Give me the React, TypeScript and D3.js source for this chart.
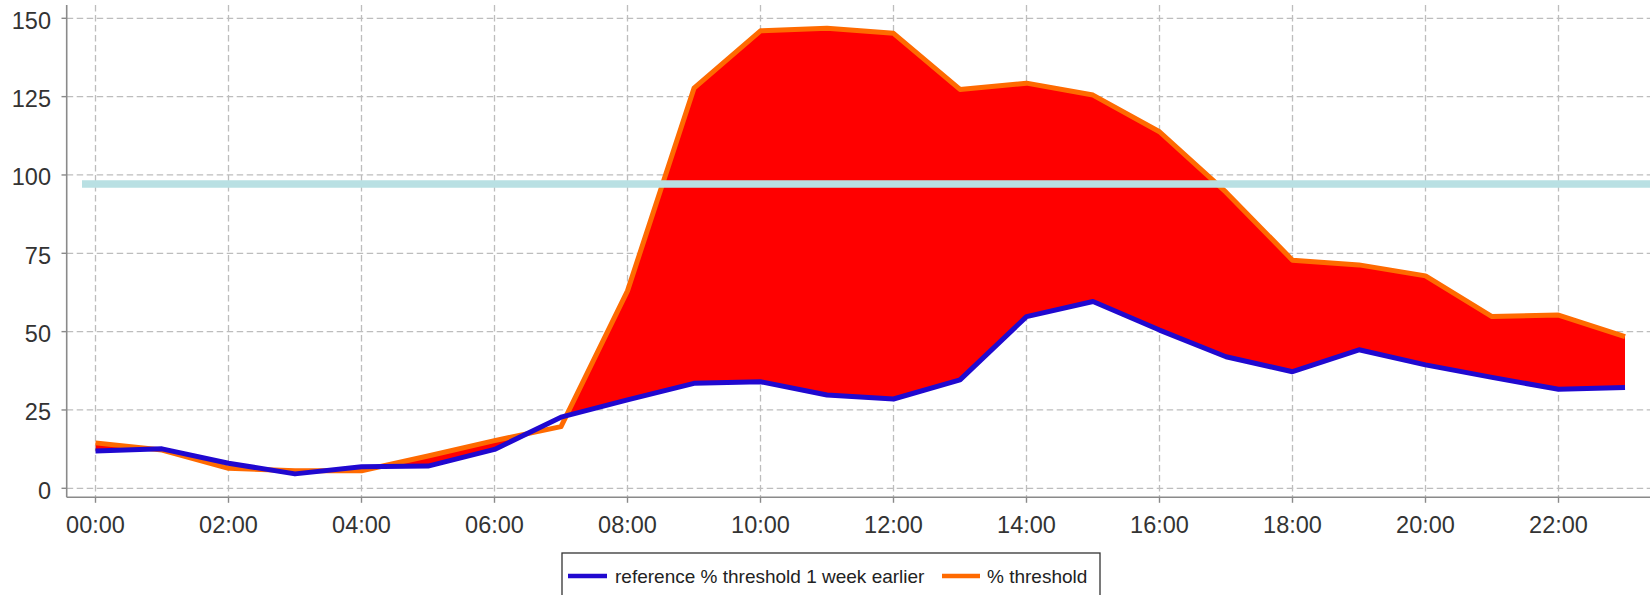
import React from "react";
import * as d3 from "d3";

const hours = [
  "00:00", "01:00", "02:00", "03:00", "04:00", "05:00", "06:00", "07:00",
  "08:00", "09:00", "10:00", "11:00", "12:00", "13:00", "14:00", "15:00",
  "16:00", "17:00", "18:00", "19:00", "20:00", "21:00", "22:00", "23:00",
];

const thresholdPct = [
  14.5, 12.2, 6.4, 5.6, 5.6, 10.3, 15.2, 19.7, 63.0, 127.7, 146.0, 146.8,
  145.2, 127.3, 129.3, 125.5, 113.8, 94.5, 72.8, 71.3, 67.8, 54.8, 55.3, 48.4,
];

const referencePct = [
  11.9, 12.6, 8.0, 4.6, 6.9, 7.1, 12.4, 22.7, 28.2, 33.5, 34.0, 29.8,
  28.5, 34.6, 54.8, 59.6, 50.5, 42.0, 37.2, 44.2, 39.4, 35.4, 31.6, 32.2,
];

const yTicks = [0, 25, 50, 75, 100, 125, 150];
const xTickHours = [0, 2, 4, 6, 8, 10, 12, 14, 16, 18, 20, 22];
const targetLine = 97.1;

const legendItems = [
  { label: "reference % threshold 1 week earlier", color: "#2008d0" },
  { label: "% threshold", color: "#ff6a00" },
];

const W = 1650;
const H = 595;
const plotLeft = 66.7;
const plotRight = 1650;
const plotTop = 5;
const plotBottom = 497.3;

const FONT = "'Liberation Sans', Arial, sans-serif";

export default function App() {
  const x = d3.scaleLinear().domain([0, 22]).range([95.5, 1558.5]);
  const y = d3.scaleLinear().domain([0, 150]).range([488.3, 18.3]);

  const idx = hours.map((_, i) => i);

  const lineThr = d3
    .line<number>()
    .x((i) => x(i))
    .y((i) => y(thresholdPct[i]));
  const lineRef = d3
    .line<number>()
    .x((i) => x(i))
    .y((i) => y(referencePct[i]));

  const aboveRef = d3
    .area<number>()
    .x((i) => x(i))
    .y0((i) => y(referencePct[i]))
    .y1(plotTop);
  const belowThr = d3
    .area<number>()
    .x((i) => x(i))
    .y0((i) => y(thresholdPct[i]))
    .y1(plotBottom);

  const gridColor = "#bdbdbd";
  const axisColor = "#8a8a8a";

  return (
    <svg
      width={W}
      height={H}
      style={{ position: "absolute", left: 0, top: 0, background: "#fff" }}
    >
      <rect x={0} y={0} width={W} height={H} fill="#fff" />
      <defs>
        <clipPath id="aboveRef">
          <path d={aboveRef(idx) || ""} />
        </clipPath>
      </defs>

      {/* horizontal grid */}
      {yTicks.map((t) => (
        <line
          key={"hg" + t}
          x1={plotLeft}
          x2={plotRight}
          y1={y(t)}
          y2={y(t)}
          stroke={gridColor}
          strokeWidth={1.3}
          strokeDasharray="6.5,3.5"
        />
      ))}
      {/* vertical grid */}
      {xTickHours.map((h) => (
        <line
          key={"vg" + h}
          x1={x(h)}
          x2={x(h)}
          y1={plotTop}
          y2={plotBottom}
          stroke={gridColor}
          strokeWidth={1.3}
          strokeDasharray="6.5,3.5"
        />
      ))}

      {/* fill between */}
      <path
        d={belowThr(idx) || ""}
        fill="#ff0000"
        clipPath="url(#aboveRef)"
      />

      {/* lines */}
      <path
        d={lineThr(idx) || ""}
        fill="none"
        stroke={legendItems[1].color}
        strokeWidth={5}
        strokeLinejoin="round"
      />
      <path
        d={lineRef(idx) || ""}
        fill="none"
        stroke={legendItems[0].color}
        strokeWidth={5}
        strokeLinejoin="round"
      />

      {/* target line */}
      <line
        x1={82}
        x2={plotRight}
        y1={y(targetLine)}
        y2={y(targetLine)}
        stroke="#b9e0e3"
        strokeWidth={7.5}
      />

      {/* axes */}
      <line
        x1={plotLeft}
        x2={plotLeft}
        y1={plotTop}
        y2={plotBottom}
        stroke={axisColor}
        strokeWidth={1.6}
      />
      <line
        x1={plotLeft}
        x2={plotRight}
        y1={plotBottom}
        y2={plotBottom}
        stroke={axisColor}
        strokeWidth={1.6}
      />

      {yTicks.map((t) => (
        <g key={"yt" + t}>
          <line
            x1={61.5}
            x2={plotLeft}
            y1={y(t)}
            y2={y(t)}
            stroke={axisColor}
            strokeWidth={1.4}
          />
          <text
            x={51}
            y={y(t) + 10.5}
            textAnchor="end"
            fontFamily={FONT}
            fontSize={23.5}
            fill="#333"
          >
            {t}
          </text>
        </g>
      ))}

      {xTickHours.map((h) => (
        <g key={"xt" + h}>
          <line
            x1={x(h)}
            x2={x(h)}
            y1={plotBottom}
            y2={plotBottom + 5.5}
            stroke={axisColor}
            strokeWidth={1.4}
          />
          <text
            x={x(h)}
            y={533}
            textAnchor="middle"
            fontFamily={FONT}
            fontSize={23.5}
            fill="#333"
          >
            {hours[h]}
          </text>
        </g>
      ))}

      {/* legend */}
      <rect
        x={562}
        y={553}
        width={538}
        height={60}
        fill="#fff"
        stroke="#333"
        strokeWidth={1.3}
      />
      <line x1={568} x2={607} y1={576} y2={576} stroke={legendItems[0].color} strokeWidth={4.5} />
      <text x={615} y={583} fontFamily={FONT} fontSize={19} fill="#222">
        {legendItems[0].label}
      </text>
      <line x1={942} x2={980} y1={576} y2={576} stroke={legendItems[1].color} strokeWidth={4.5} />
      <text x={987} y={583} fontFamily={FONT} fontSize={19} fill="#222">
        {legendItems[1].label}
      </text>
    </svg>
  );
}
